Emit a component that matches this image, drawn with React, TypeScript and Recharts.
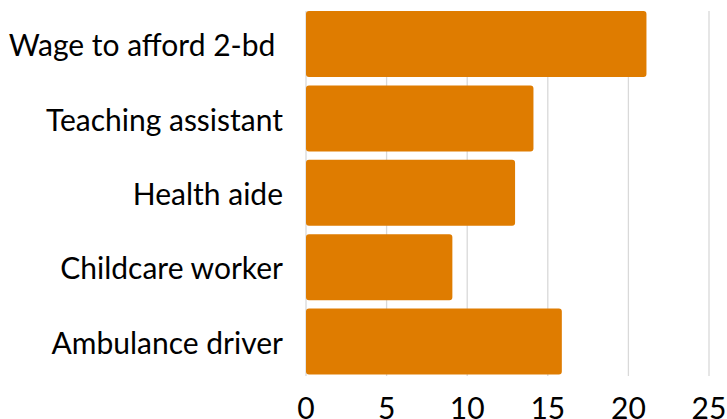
import React from 'react';
import { BarChart, Bar, XAxis, YAxis, CartesianGrid } from 'recharts';

const categories = ['Wage to afford 2-bd ', 'Teaching assistant', 'Health aide', 'Childcare worker', 'Ambulance driver'];
const wages = [21.12, 14.11, 12.97, 9.08, 15.87];
const xTicks = [0, 5, 10, 15, 20, 25];

const data = categories.map((name, i) => ({ name, value: wages[i] }));

const FONT = 'Lato, "Noto Sans", sans-serif';

const YTick = (props: any) => {
  const { x, y, payload } = props;
  return (
    <text
      x={x}
      y={y}
      textAnchor="end"
      dominantBaseline="central"
      fontFamily={FONT}
      fontSize={30}
      fill="#000"
      style={{ whiteSpace: 'pre' }}
    >
      {payload.value}
    </text>
  );
};

export default function App() {
  return (
    <div style={{ position: 'absolute', left: 0, top: 0, width: 727, height: 419, background: '#fff' }}>
      <BarChart
        width={727}
        height={419}
        data={data}
        layout="vertical"
        margin={{ top: 7, right: 18, bottom: 0, left: 0 }}
        barSize={66}
      >
        <CartesianGrid horizontal={false} stroke="#d9d9d9" strokeWidth={1.3} y={11} height={365} />
        <XAxis
          type="number"
          domain={[0, 25]}
          ticks={xTicks}
          axisLine={false}
          tickLine={false}
          tickSize={0}
          tickMargin={19}
          height={40}
          tick={{ fontFamily: FONT, fontSize: 30, fill: '#000' }}
          interval={0}
        />
        <YAxis
          type="category"
          dataKey="name"
          width={306}
          axisLine={false}
          tickLine={false}
          tickSize={0}
          tickMargin={23}
          tick={<YTick />}
          interval={0}
        />
        <Bar dataKey="value" fill="#DF7C00" radius={3} isAnimationActive={false} />
      </BarChart>
    </div>
  );
}
